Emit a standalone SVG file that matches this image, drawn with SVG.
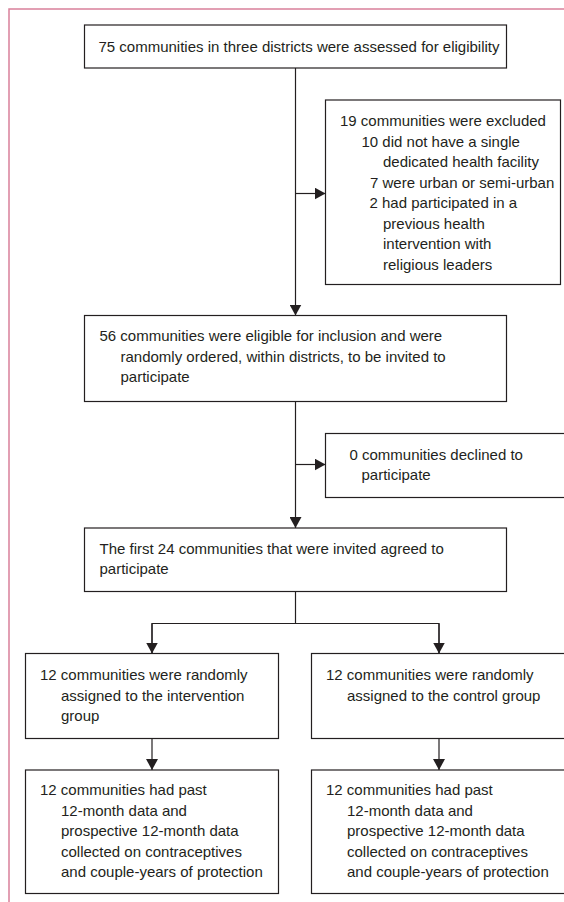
<svg xmlns="http://www.w3.org/2000/svg" width="564" height="902" viewBox="0 0 564 902">
<style>
.box{fill:#ffffff;stroke:#231f20;stroke-width:1.2}
.t{font-family:"Liberation Sans",Arial,sans-serif;font-size:15px;fill:#231f20}
.ln{fill:none;stroke:#231f20;stroke-width:1.2}
.frame{fill:none;stroke:#d9809a;stroke-width:1.5}
</style>
<defs>
<marker id="ah" markerWidth="11" markerHeight="12" refX="11" refY="6" orient="auto" markerUnits="userSpaceOnUse">
<path d="M0,0 L11,6 L0,12 Z" fill="#231f20"/>
</marker>
</defs>
<rect width="564" height="902" fill="#ffffff"/>
<path class="frame" d="M9,902 L9,9 L564,9"/>

<g id="connectors">
<line class="ln" x1="295.5" y1="68" x2="295.5" y2="315.5" marker-end="url(#ah)"/>
<line class="ln" x1="295.5" y1="193.5" x2="325.5" y2="193.5" marker-end="url(#ah)"/>
<line class="ln" x1="295.5" y1="401.5" x2="295.5" y2="528" marker-end="url(#ah)"/>
<line class="ln" x1="295.5" y1="464.5" x2="325.5" y2="464.5" marker-end="url(#ah)"/>
<polyline class="ln" points="295.5,591.5 295.5,623.5"/>
<polyline class="ln" points="152,653 152,623.5 439,623.5 439,653" />
<line class="ln" x1="152" y1="623.5" x2="152" y2="653.5" marker-end="url(#ah)"/>
<line class="ln" x1="439" y1="623.5" x2="439" y2="653.5" marker-end="url(#ah)"/>
<line class="ln" x1="152" y1="738.5" x2="152" y2="770" marker-end="url(#ah)"/>
<line class="ln" x1="439" y1="738.5" x2="439" y2="770" marker-end="url(#ah)"/>
</g>

<g id="assessed">
<rect class="box" x="84.5" y="25" width="422" height="43"/>
<text class="t" x="98.5" y="52">75 communities in three districts were assessed for eligibility</text>
</g>

<g id="excluded">
<rect class="box" x="325.5" y="100" width="235" height="184.5"/>
<text class="t" x="340" y="126">19 communities were excluded</text>
<text class="t" x="361.5" y="146.5">10 did not have a single</text>
<text class="t" x="383" y="167">dedicated health facility</text>
<text class="t" x="370" y="187.5">7 were urban or semi-urban</text>
<text class="t" x="369.5" y="208">2 had participated in a</text>
<text class="t" x="383" y="228.5">previous health</text>
<text class="t" x="383" y="249">intervention with</text>
<text class="t" x="383" y="269.5">religious leaders</text>
</g>

<g id="eligible">
<rect class="box" x="84.5" y="315.5" width="422" height="86"/>
<text class="t" x="99.5" y="341">56 communities were eligible for inclusion and were</text>
<text class="t" x="120.5" y="361.5">randomly ordered, within districts, to be invited to</text>
<text class="t" x="120.5" y="382">participate</text>
</g>

<g id="declined">
<rect class="box" x="325.5" y="433.5" width="245" height="64"/>
<text class="t" x="349.5" y="459.5">0 communities declined to</text>
<text class="t" x="361.5" y="480">participate</text>
</g>

<g id="agreed">
<rect class="box" x="84.5" y="528" width="422" height="63.5"/>
<text class="t" x="99.5" y="553.5">The first 24 communities that were invited agreed to</text>
<text class="t" x="99.5" y="574">participate</text>
</g>

<g id="intervention">
<rect class="box" x="25.5" y="653.5" width="253" height="85"/>
<text class="t" x="40" y="680">12 communities were randomly</text>
<text class="t" x="61" y="700.5">assigned to the intervention</text>
<text class="t" x="61" y="721">group</text>
</g>

<g id="control">
<rect class="box" x="311.5" y="653.5" width="260" height="85"/>
<text class="t" x="326" y="680">12 communities were randomly</text>
<text class="t" x="347" y="700.5">assigned to the control group</text>
</g>

<g id="intervention-data">
<rect class="box" x="25.5" y="770" width="253" height="123.5"/>
<text class="t" x="40" y="795">12 communities had past</text>
<text class="t" x="61" y="815.5">12-month data and</text>
<text class="t" x="61" y="836">prospective 12-month data</text>
<text class="t" x="61" y="856.5">collected on contraceptives</text>
<text class="t" x="61" y="877">and couple-years of protection</text>
</g>

<g id="control-data">
<rect class="box" x="311.5" y="770" width="260" height="123.5"/>
<text class="t" x="326" y="795">12 communities had past</text>
<text class="t" x="347" y="815.5">12-month data and</text>
<text class="t" x="347" y="836">prospective 12-month data</text>
<text class="t" x="347" y="856.5">collected on contraceptives</text>
<text class="t" x="347" y="877">and couple-years of protection</text>
</g>
</svg>
